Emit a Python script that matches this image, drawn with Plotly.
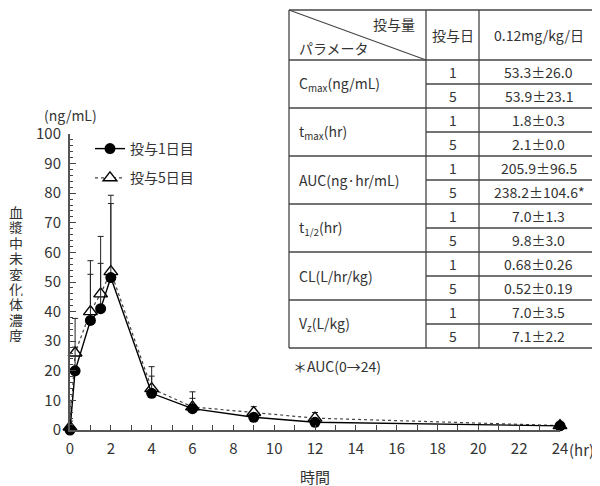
import plotly.graph_objects as go

# ---------------- data ----------------
times = [0, 0.25, 1, 1.5, 2, 4, 6, 9, 12, 24]
day1_mean = [0, 20, 37, 41, 51.5, 12.4, 7.2, 4.3, 2.6, 1.4]
day1_sd = [3, 8, 15.6, 15.3, 27.8, 5.8, 3.5, 1.2, 0.8, 0.4]
day5_mean = [1, 26, 40, 46, 53.5, 14, 7.8, 5.9, 4.0, 1.5]
day5_sd = [9, 11.7, 17.2, 19.4, 23.0, 7.4, 5.1, 2.0, 1.9, 0.6]

series_names = ["投与1日目", "投与5日目"]
x_ticks = list(range(0, 25, 2))
y_ticks = list(range(0, 101, 10))

table_params = ["C<sub>max</sub>(ng/mL)", "t<sub>max</sub>(hr)", "AUC(ng·hr/mL)",
                "t<sub>1/2</sub>(hr)", "CL(L/hr/kg)", "V<sub>z</sub>(L/kg)"]
table_days = ["1", "5"]
table_values = ["53.3±26.0", "53.9±23.1", "1.8±0.3", "2.1±0.0",
                "205.9±96.5", "238.2±104.6*", "7.0±1.3", "9.8±3.0",
                "0.68±0.26", "0.52±0.19", "7.0±3.5", "7.1±2.2"]
table_header = ["投与量", "パラメータ", "投与日", "0.12mg/kg/日"]
footnote = "＊AUC(0→24)"

# ---------------- layout geometry (page pixels) ----------------
OFF = 8                      # page body margin
W, H = 600 - OFF, 486 - OFF  # figure size
L, R, T, B = 70, 560, 134, 430   # plot area in page pixels
FONT = "Noto Sans CJK JP, Noto Sans, sans-serif"
TXT = "#333333"


def px(x):
    return (x - L) / (R - L)


def py(y):
    return (B - y) / (B - T)


fig = go.Figure()

# day 5 first so day-1 circles sit on top
fig.add_trace(go.Scatter(
    x=times, y=day5_mean, name=series_names[1], mode="lines+markers",
    line=dict(color="#444444", width=1.2, dash="dot"),
    marker=dict(symbol="triangle-up", size=12, color="white",
                line=dict(color="black", width=1.4)),
    error_y=dict(type="data", symmetric=False, array=day5_sd,
                 arrayminus=[0] * len(day5_sd), color="#222222",
                 thickness=1, width=3),
    cliponaxis=False, legendgroup="g5", legendrank=2,
))
fig.add_trace(go.Scatter(
    x=times, y=day1_mean, name=series_names[0], mode="lines+markers",
    line=dict(color="black", width=1.4),
    marker=dict(symbol="circle", size=11, color="black",
                line=dict(color="black", width=0)),
    error_y=dict(type="data", symmetric=False, array=day1_sd,
                 arrayminus=[0] * len(day1_sd), color="#222222",
                 thickness=1, width=3),
    cliponaxis=False, legendgroup="g1", legendrank=1,
))

shapes = []
annotations = []

# ---------------- table ----------------
tl, c1, c2, tr = 289, 426, 479, 598
tt, hb, rh = 10, 60, 24
nrows = len(table_values)
tb = hb + rh * nrows
line_style = dict(color="#444444", width=1.3)


def hline(x0, x1, y):
    shapes.append(dict(type="line", xref="paper", yref="paper",
                       x0=px(x0), x1=px(x1), y0=py(y), y1=py(y), line=line_style))


def vline(x, y0, y1):
    shapes.append(dict(type="line", xref="paper", yref="paper",
                       x0=px(x), x1=px(x), y0=py(y0), y1=py(y1), line=line_style))


hline(tl, tr, tt)
hline(tl, tr, hb)
hline(tl, tr, tb)
vline(tl, tt, tb)
vline(c1, tt, tb)
vline(c2, tt, tb)
vline(tr, tt, tb)
shapes.append(dict(type="line", xref="paper", yref="paper",
                   x0=px(tl), y0=py(tt), x1=px(c1), y1=py(hb),
                   line=dict(color="#444444", width=1.1)))
for i in range(1, nrows):
    y = hb + rh * i
    if i % 2 == 0:
        hline(tl, tr, y)
    else:
        hline(c1, tr, y)


def text(x, y, s, size=14, xanchor="center", yanchor="middle", height=None):
    ann = dict(x=px(x), y=py(y), xref="paper", yref="paper",
               text=s, showarrow=False, xanchor=xanchor,
               yanchor=yanchor,
               font=dict(family=FONT, size=size, color=TXT))
    if height is not None:
        ann["height"] = height
        ann["valign"] = "middle"
    annotations.append(ann)


text(417, 24, table_header[0], xanchor="right")
text(297, 48, table_header[1], xanchor="left")
text((c1 + c2) / 2, 35, table_header[2])
text((c2 + tr) / 2, 35, table_header[3])
for g, p in enumerate(table_params):
    text(297, hb + rh * (2 * g + 1), p, xanchor="left")
for i, v in enumerate(table_values):
    yc = hb + rh * i + rh / 2
    text((c1 + c2) / 2, yc, table_days[i % 2])
    text((c2 + tr) / 2, yc, v)
text(291, 366, footnote, xanchor="left")

# ---------------- axis decorations ----------------
text(42, 115, "(ng/mL)", size=14, xanchor="left")
text(567, 449, "(hr)", size=15, xanchor="left")
text(315, 476, "時間", size=15)
ytitle = "血漿中未変化体濃度"
for k, ch in enumerate(ytitle):
    text(16, 212 + 15.4 * k, ch, size=14, height=14)

fig.update_layout(
    width=W, height=H,
    margin=dict(l=L - OFF, r=W - (R - OFF), t=T - OFF, b=H - (B - OFF), pad=0),
    paper_bgcolor="white", plot_bgcolor="white",
    font=dict(family=FONT, color=TXT, size=15),
    showlegend=True,
    legend=dict(x=px(90), y=py(133), xanchor="left", yanchor="top",
                bgcolor="rgba(0,0,0,0)", itemwidth=30, tracegroupgap=8,
                traceorder="grouped", font=dict(size=14, color=TXT, family=FONT)),
    shapes=shapes, annotations=annotations,
    xaxis=dict(range=[0, 24], tickvals=x_ticks, ticktext=[str(v) for v in x_ticks],
               showgrid=False, zeroline=False, showline=True, linecolor="#555555",
               linewidth=2, ticks="inside", ticklen=5, tickcolor="#444444",
               tickwidth=1.3, tickfont=dict(size=15, color=TXT), ticklabelstandoff=4,
               minor=dict(dtick=1, ticks="inside", ticklen=5, tickcolor="#444444",
                          tickwidth=1.3, showgrid=False)),
    yaxis=dict(range=[0, 100], tickvals=y_ticks, ticktext=[str(v) for v in y_ticks],
               showgrid=False, zeroline=False, showline=True, linecolor="#555555",
               linewidth=2, ticks="inside", ticklen=6, tickcolor="#444444",
               tickwidth=1.3, tickfont=dict(size=15, color=TXT), ticklabelstandoff=4,
               minor=dict(dtick=2, ticks="inside", ticklen=3, tickcolor="#444444",
                          tickwidth=1, showgrid=False)),
)

fig.write_html("out.html")
